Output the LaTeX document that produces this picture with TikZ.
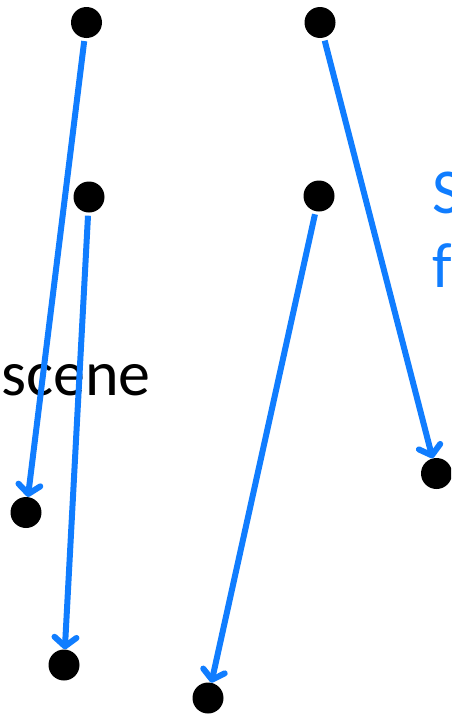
\documentclass[tikz,border=0pt]{standalone}
\usepackage{fontspec}
\setmainfont{Carlito}
\usepackage{xcolor}
\usepackage{tikz}
\usetikzlibrary{arrows.meta}
\definecolor{keyblue}{RGB}{16,125,255}

\begin{document}
\begin{tikzpicture}[
    x=1pt, y=-1pt,
    dot/.style={circle, fill=black, inner sep=0pt, minimum size=31pt},
    arrow/.style={keyblue, line width=6pt, shorten <=3pt, -{Straight Barb[length=9pt,width=22pt,round]}},
    bigtext/.style={font=\fontsize{64}{74}\selectfont, inner sep=0pt, align=left}
]
\useasboundingbox (0,0) rectangle (451,715);
\clip (0,0) rectangle (451,715);

\node[bigtext, anchor=base west] (scene) at (1,395) {scene};
\node[bigtext, text=keyblue, anchor=base west] (side) at (432,287) {S\\f};

\node[dot] (topL) at (86.5,22.5) {};
\node[dot] (topR) at (320,22.5) {};
\node[dot] (midL) at (89,197) {};
\node[dot] (midR) at (319,196) {};
\node[dot] (endA) at (26,512.5) {};
\node[dot] (endB) at (64,665) {};
\node[dot] (endC) at (208,698) {};
\node[dot] (endD) at (436.5,473.5) {};

\draw[arrow] (topL) -- (endA);
\draw[arrow] (midL) -- (endB);
\draw[arrow] (topR) -- (endD);
\draw[arrow] (midR) -- (endC);
\end{tikzpicture}
\end{document}
